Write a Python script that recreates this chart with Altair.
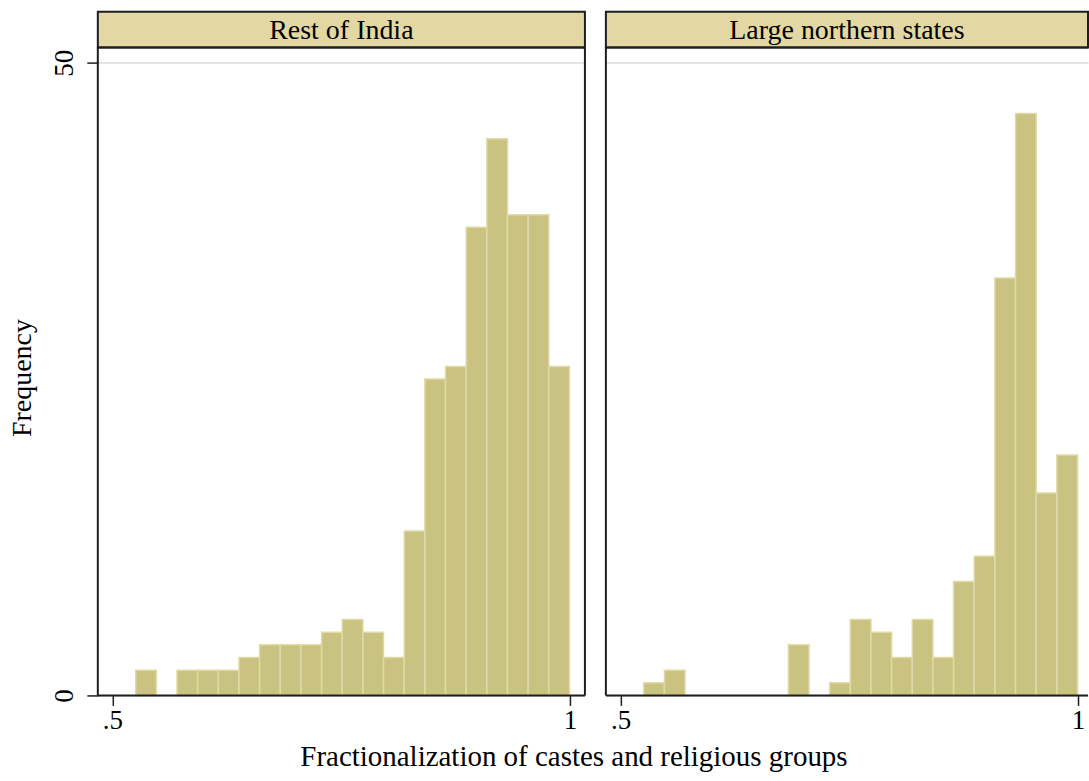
import altair as alt
import pandas as pd

# Histogram bins shared by both panels (Stata-style: start at the minimum, equal widths)
bin_start = 0.5254
bin_width = 0.022576
n_bins = 21

panel_names = ["Rest of India", "Large northern states"]
counts_rest = [2, 0, 2, 2, 2, 3, 4, 4, 4, 5, 6, 5, 3, 13, 25, 26, 37, 44, 38, 38, 26]
counts_north = [1, 2, 0, 0, 0, 0, 0, 4, 0, 1, 6, 5, 3, 6, 3, 9, 11, 33, 46, 16, 19]

x_ticks = [0.5, 1.0]
y_ticks = [0, 50]

FONT = "Liberation Serif"
BAR_FILL = "#cac280"
BAR_EDGE = "#e0daa6"
STRIP_FILL = "#e3d8a4"
FRAME = "#1e1e1e"

X_MIN = 0.484
PX_PER_UNIT = 916.6
Y_MAX = 51.2
PANEL_H = 649


def hist_frame(name, counts):
    rows = []
    for i, c in enumerate(counts):
        if c > 0:
            lo = bin_start + i * bin_width
            rows.append({"panel": name, "lo": lo, "hi": lo + bin_width, "count": c})
    return pd.DataFrame(rows)


one_row = pd.DataFrame({"k": [0]})


def panel(name, counts, width, first):
    xmax = X_MIN + width / PX_PER_UNIT
    x_axis = alt.Axis(
        values=x_ticks,
        labelExpr="datum.value == 1 ? '1' : '.5'",
        title=None,
        domain=False,
        grid=False,
        ticks=True,
        tickSize=10,
        tickColor=FRAME,
        tickWidth=1.5,
        labelFont=FONT,
        labelFontSize=27,
        labelColor="black",
        labelPadding=2,
    )
    if first:
        y_axis = alt.Axis(
            values=y_ticks,
            title=None,
            domain=False,
            grid=True,
            gridColor="#e4e4e4",
            gridWidth=2,
            ticks=True,
            tickSize=11,
            tickColor=FRAME,
            tickWidth=1.5,
            labelAngle=-90,
            labelAlign="center",
            labelBaseline="bottom",
            labelFont=FONT,
            labelFontSize=27,
            labelColor="black",
            labelPadding=8,
        )
    else:
        y_axis = alt.Axis(
            values=y_ticks,
            title=None,
            domain=False,
            grid=True,
            gridColor="#e4e4e4",
            gridWidth=2,
            ticks=False,
            labels=False,
        )

    bars = alt.Chart(hist_frame(name, counts)).mark_rect(
        fill=BAR_FILL, stroke=BAR_EDGE, strokeWidth=1.5
    ).encode(
        x=alt.X("lo:Q", scale=alt.Scale(domain=[X_MIN, xmax], nice=False, zero=False), axis=x_axis),
        x2="hi:Q",
        y=alt.Y("count:Q", scale=alt.Scale(domain=[0, Y_MAX], nice=False), axis=y_axis),
        y2=alt.datum(0),
    )

    base = alt.Chart(one_row)
    strip = base.mark_rect(fill=STRIP_FILL, stroke=FRAME, strokeWidth=2).encode(
        x=alt.value(0), x2=alt.value(width), y=alt.value(-36), y2=alt.value(0)
    )
    strip_text = base.mark_text(
        text=name, font=FONT, fontSize=28, color="black", align="center", baseline="middle"
    ).encode(x=alt.value(width / 2), y=alt.value(-17))

    top = base.mark_rule(color=FRAME, strokeWidth=2).encode(
        x=alt.value(0), x2=alt.value(width), y=alt.value(0)
    )
    bottom = base.mark_rule(color=FRAME, strokeWidth=2).encode(
        x=alt.value(0), x2=alt.value(width), y=alt.value(PANEL_H)
    )
    left = base.mark_rule(color=FRAME, strokeWidth=2).encode(
        x=alt.value(0), y=alt.value(0), y2=alt.value(PANEL_H)
    )
    layers = [bars, strip, strip_text, top, bottom, left]
    if first:
        right = base.mark_rule(color=FRAME, strokeWidth=2).encode(
            x=alt.value(width), y=alt.value(0), y2=alt.value(PANEL_H)
        )
        y_title = base.mark_text(
            text="Frequency", font=FONT, fontSize=28, color="black",
            align="center", baseline="middle", angle=270,
        ).encode(x=alt.value(-75), y=alt.value(331))
        x_title = base.mark_text(
            text="Fractionalization of castes and religious groups", font=FONT,
            fontSize=29, color="black", align="center", baseline="alphabetic",
        ).encode(x=alt.value(477), y=alt.value(720))
        layers += [right, y_title, x_title]
    return alt.layer(*layers).properties(width=width, height=PANEL_H)


chart = alt.hconcat(
    panel(panel_names[0], counts_rest, 488, True),
    panel(panel_names[1], counts_north, 483, False),
    spacing=21,
    bounds="flush",
).properties(
    padding={"left": 9, "top": 10, "right": 0, "bottom": 0},
    background="white",
).configure_view(stroke=None)

chart.save("out.html", embed_options={"renderer": "svg", "actions": False})
